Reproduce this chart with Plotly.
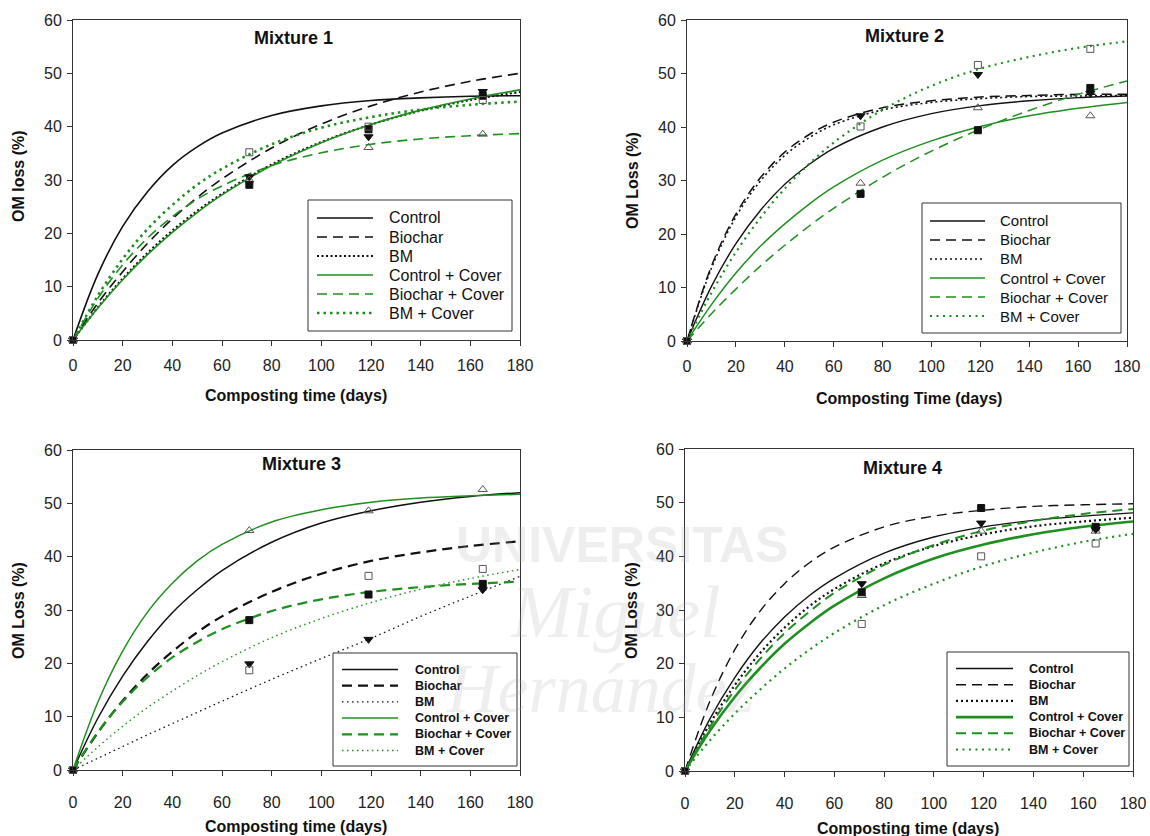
import plotly.graph_objects as go

W, H = 1150, 836

# ---------------------------------------------------------------- data
SERIES = ["Control", "Biochar", "BM", "Control + Cover", "Biochar + Cover", "BM + Cover"]
DAYS_FIT = [0, 10, 20, 30, 40, 50, 60, 80, 100, 120, 140, 160, 180]
DAYS_OBS = [0, 71, 119, 165]
X_TICKS = [0, 20, 40, 60, 80, 100, 120, 140, 160, 180]
Y_TICKS = [0, 10, 20, 30, 40, 50, 60]

# Mixture 1 - fitted OM loss curves (%)
m1_control = [0, 12.3, 21.3, 27.8, 32.7, 36.2, 38.8, 42.1, 43.9, 44.9, 45.4, 45.7, 45.8]
m1_biochar = [0, 6.9, 12.8, 18.1, 22.7, 26.7, 30.2, 36.0, 40.5, 43.9, 46.5, 48.5, 50.0]
m1_bm = [0, 6.1, 11.5, 16.3, 20.5, 24.2, 27.4, 32.9, 37.1, 40.4, 43.0, 45.0, 46.5]
m1_control_cover = [0, 6.0, 11.3, 16.0, 20.2, 23.9, 27.2, 32.7, 37.0, 40.4, 43.1, 45.2, 46.9]
m1_biochar_cover = [0, 7.8, 14.1, 19.1, 23.1, 26.4, 28.9, 32.7, 35.1, 36.7, 37.7, 38.3, 38.7]
m1_bm_cover = [0, 8.3, 15.2, 20.8, 25.3, 29.1, 32.1, 36.7, 39.8, 41.8, 43.2, 44.1, 44.7]
# Mixture 1 - measured points
m1_obs_tri_down = [0, 30.6, 38.1, 46.6]
m1_obs_tri_up = [0, 30.0, 36.1, 38.6]
m1_obs_sq_fill = [0, 29.1, 39.5, 45.8]
m1_obs_sq_open = [0, 35.2, 40.0, 45.0]

# Mixture 2 - fitted OM loss curves (%)
m2_control = [0, 10.2, 18.2, 24.4, 29.3, 33.0, 36.0, 40.0, 42.5, 44.0, 44.9, 45.5, 45.8]
m2_biochar = [0, 14.0, 23.7, 30.5, 35.3, 38.6, 40.9, 43.6, 44.9, 45.6, 45.9, 46.1, 46.1]
m2_bm = [0, 13.6, 23.2, 29.9, 34.7, 38.0, 40.4, 43.2, 44.6, 45.3, 45.7, 45.8, 45.9]
m2_control_cover = [0, 6.8, 12.7, 17.7, 21.9, 25.6, 28.8, 33.8, 37.4, 40.1, 42.1, 43.5, 44.6]
m2_biochar_cover = [0, 5.1, 9.7, 14.0, 17.9, 21.5, 24.8, 30.6, 35.5, 39.6, 43.1, 46.1, 48.6]
m2_bm_cover = [0, 9.0, 16.6, 23.0, 28.5, 33.1, 37.1, 43.2, 47.7, 50.9, 53.1, 54.8, 56.0]
# Mixture 2 - measured points
m2_obs_tri_down = [0, 42.1, 49.8, 46.3]
m2_obs_tri_up = [0, 29.5, 43.6, 42.1]
m2_obs_sq_fill = [0, 27.5, 39.4, 47.3]
m2_obs_sq_open = [0, 40.1, 51.6, 54.6]

# Mixture 3 - fitted OM loss curves (%)
m3_control = [0, 9.7, 17.6, 24.1, 29.5, 33.8, 37.4, 42.7, 46.3, 48.6, 50.2, 51.3, 52.0]
m3_biochar = [0, 7.0, 13.0, 18.0, 22.2, 25.8, 28.8, 33.4, 36.8, 39.2, 40.8, 42.0, 42.9]
m3_bm = [0, 2.2, 4.4, 6.6, 8.7, 10.8, 12.9, 17.0, 20.9, 24.7, 28.8, 32.6, 36.3]
m3_control_cover = [0, 12.7, 22.3, 29.6, 35.0, 39.2, 42.3, 46.5, 48.8, 50.2, 51.0, 51.4, 51.7]
m3_biochar_cover = [0, 7.1, 12.8, 17.4, 21.1, 24.0, 26.4, 29.8, 32.0, 33.4, 34.3, 34.9, 35.3]
m3_bm_cover = [0, 4.3, 8.2, 11.7, 14.8, 17.7, 20.3, 24.8, 28.4, 31.4, 33.9, 35.9, 37.6]
# Mixture 3 - measured points
m3_obs_tri_down = [0, 19.9, 24.5, 33.8]
m3_obs_tri_up = [0, 44.9, 48.6, 52.6]
m3_obs_sq_fill = [0, 28.1, 32.9, 34.9]
m3_obs_sq_open = [0, 18.7, 36.4, 37.7]

# Mixture 4 - fitted OM loss curves (%)
m4_control = [0, 9.7, 17.4, 23.7, 28.7, 32.7, 35.9, 40.6, 43.6, 45.5, 46.7, 47.5, 48.1]
m4_biochar = [0, 13.0, 22.6, 29.7, 34.9, 38.8, 41.7, 45.5, 47.5, 48.6, 49.3, 49.6, 49.8]
m4_bm = [0, 8.8, 16.0, 21.9, 26.7, 30.7, 33.9, 38.7, 41.9, 44.1, 45.6, 46.5, 47.2]
m4_control_cover = [0, 7.5, 13.8, 19.1, 23.7, 27.5, 30.8, 35.9, 39.6, 42.2, 44.1, 45.5, 46.5]
m4_biochar_cover = [0, 8.2, 15.1, 20.8, 25.7, 29.7, 33.2, 38.4, 42.1, 44.8, 46.6, 47.9, 48.8]
m4_bm_cover = [0, 5.7, 10.7, 15.1, 19.1, 22.6, 25.7, 30.9, 34.9, 38.2, 40.7, 42.7, 44.2]
# Mixture 4 - measured points
m4_obs_tri_down = [0, 34.9, 46.2, 45.0]
m4_obs_tri_up = [0, 32.7, 44.7, 44.7]
m4_obs_sq_fill = [0, 33.3, 49.0, 45.5]
m4_obs_sq_open = [0, 27.4, 40.0, 42.4]

# ---------------------------------------------------------------- styling
BLACK = "#111111"
GREEN = "#1f8f1f"
FONT = "Liberation Sans, Arial, sans-serif"

# line style per series: (colour, dash, width) for each mixture
STYLES = {
    1: [(BLACK, "solid", 1.6), (BLACK, "10px,6px", 1.6), (BLACK, "2px,2.5px", 2.2),
        (GREEN, "solid", 1.6), (GREEN, "10px,6px", 1.6), (GREEN, "2.5px,4px", 2.6)],
    2: [(BLACK, "solid", 1.4), (BLACK, "10px,6px", 1.5), (BLACK, "2px,3px", 1.6),
        (GREEN, "solid", 1.5), (GREEN, "10px,6px", 1.5), (GREEN, "2px,4.5px", 2.2)],
    3: [(BLACK, "solid", 1.5), (BLACK, "10px,6px", 2.2), (BLACK, "1.5px,3.5px", 1.3),
        (GREEN, "solid", 1.5), (GREEN, "10px,6px", 2.2), (GREEN, "1.5px,3.5px", 1.4)],
    4: [(BLACK, "solid", 1.4), (BLACK, "10px,6px", 1.4), (BLACK, "2px,3px", 2.2),
        (GREEN, "solid", 2.6), (GREEN, "10px,6px", 2.0), (GREEN, "2px,4.5px", 2.2)],
}

# panel geometry in pixels: plot-area rect, legend box, title/axis label anchors
PANELS = {
    1: dict(rect=(73, 20, 520, 340), legend=(308, 200, 512, 331), rows=(218, 19.0),
            line_x=(317, 373), text_x=387, leg_font=16, leg_bold=False,
            title="Mixture 1", title_xy=(293, 38), ytitle="OM loss (%)", ytitle_xy=(18, 176),
            xtitle="Composting time (days)", xtitle_xy=(296, 396), xtick_gap=6),
    2: dict(rect=(687, 20, 1127, 341), legend=(922, 203, 1121, 333), rows=(221, 19.0),
            line_x=(930, 985), text_x=998, leg_font=15, leg_bold=False,
            title="Mixture 2", title_xy=(904, 36), ytitle="OM Loss (%)", ytitle_xy=(633, 181),
            xtitle="Composting Time (days)", xtitle_xy=(909, 398), xtick_gap=6),
    3: dict(rect=(73, 450, 520, 770), legend=(333, 653, 517, 766), rows=(669.5, 16.2),
            line_x=(342, 398), text_x=413, leg_font=12.5, leg_bold=True,
            title="Mixture 3", title_xy=(301, 464), ytitle="OM Loss (%)", ytitle_xy=(18, 611),
            xtitle="Composting time (days)", xtitle_xy=(296, 826), xtick_gap=13),
    4: dict(rect=(685, 449, 1133, 771), legend=(947, 652, 1129, 766), rows=(668.5, 16.2),
            line_x=(956, 1013), text_x=1027, leg_font=12.5, leg_bold=True,
            title="Mixture 4", title_xy=(902, 468), ytitle="OM Loss (%)", ytitle_xy=(631, 611),
            xtitle="Composting time (days)", xtitle_xy=(908, 828), xtick_gap=13),
}

CURVES = {
    1: [m1_control, m1_biochar, m1_bm, m1_control_cover, m1_biochar_cover, m1_bm_cover],
    2: [m2_control, m2_biochar, m2_bm, m2_control_cover, m2_biochar_cover, m2_bm_cover],
    3: [m3_control, m3_biochar, m3_bm, m3_control_cover, m3_biochar_cover, m3_bm_cover],
    4: [m4_control, m4_biochar, m4_bm, m4_control_cover, m4_biochar_cover, m4_bm_cover],
}
POINTS = {
    1: [m1_obs_tri_down, m1_obs_tri_up, m1_obs_sq_fill, m1_obs_sq_open],
    2: [m2_obs_tri_down, m2_obs_tri_up, m2_obs_sq_fill, m2_obs_sq_open],
    3: [m3_obs_tri_down, m3_obs_tri_up, m3_obs_sq_fill, m3_obs_sq_open],
    4: [m4_obs_tri_down, m4_obs_tri_up, m4_obs_sq_fill, m4_obs_sq_open],
}
POINT_NAMES = ["BM", "Control + Cover", "Biochar + Cover", "BM + Cover"]
MARKERS = [
    dict(symbol="triangle-down", size=8, color=BLACK, line=dict(color=BLACK, width=1)),
    dict(symbol="triangle-up-open", size=8, color="#555555", line=dict(color="#555555", width=1)),
    dict(symbol="square", size=7, color=BLACK, line=dict(color=BLACK, width=1)),
    dict(symbol="square-open", size=7, color="#555555", line=dict(color="#555555", width=1)),
]


def px_x(x):
    return x / W


def px_y(y):
    return 1 - y / H


def text_at(text, x, y, size, **kw):
    return dict(text=text, x=px_x(x), y=px_y(y), xref="paper", yref="paper",
                showarrow=False, xanchor=kw.pop("xanchor", "center"), yanchor="middle",
                font=dict(family=FONT, size=size, color=kw.pop("color", "#111111")), **kw)


fig = go.Figure()
shapes, annotations = [], []

for i, p in PANELS.items():
    ax = "" if i == 1 else str(i)
    xa, ya = "x" + ax, "y" + ax
    x0, y0, x1, y1 = p["rect"]

    for name, vals, (col, dash, wid) in zip(SERIES, CURVES[i], STYLES[i]):
        fig.add_trace(go.Scatter(
            x=DAYS_FIT, y=vals, mode="lines", name=name, xaxis=xa, yaxis=ya,
            line=dict(color=col, dash=dash, width=wid, shape="spline", smoothing=1.0),
            showlegend=False, hoverinfo="skip"))

    for name, vals, mk in zip(POINT_NAMES, POINTS[i], MARKERS):
        fig.add_trace(go.Scatter(
            x=DAYS_OBS, y=vals, mode="markers", name=name, xaxis=xa, yaxis=ya,
            marker=mk, showlegend=False, cliponaxis=False))

    tick_font = dict(family=FONT, size=16, color="#222222")
    axis_common = dict(showgrid=False, zeroline=False, showline=True, linecolor="#333333",
                       linewidth=1, mirror=True, ticks="outside", ticklen=5,
                       tickcolor="#333333", tickwidth=1, automargin=False,
                       tickfont=tick_font)
    fig.layout["xaxis" + ax] = dict(
        domain=[px_x(x0), px_x(x1)], range=[0, 180], tickvals=X_TICKS,
        anchor=ya, ticklabelstandoff=p["xtick_gap"], **axis_common)
    fig.layout["yaxis" + ax] = dict(
        domain=[px_y(y1), px_y(y0)], range=[0, 60], tickvals=Y_TICKS,
        anchor=xa, ticklabelstandoff=2, **axis_common)

    # panel title and axis titles
    annotations.append(text_at("<b>%s</b>" % p["title"], *p["title_xy"], 18))
    annotations.append(text_at("<b>%s</b>" % p["ytitle"], *p["ytitle_xy"], 16, textangle=-90))
    annotations.append(text_at("<b>%s</b>" % p["xtitle"], *p["xtitle_xy"], 16))

    # legend box with line samples
    lx0, ly0, lx1, ly1 = p["legend"]
    shapes.append(dict(type="rect", xref="paper", yref="paper",
                       x0=px_x(lx0), x1=px_x(lx1), y0=px_y(ly1), y1=px_y(ly0),
                       line=dict(color="#333333", width=1), fillcolor="white", layer="above"))
    r0, dr = p["rows"]
    sx0, sx1 = p["line_x"]
    for k, (name, (col, dash, wid)) in enumerate(zip(SERIES, STYLES[i])):
        ry = r0 + k * dr
        shapes.append(dict(type="line", xref="paper", yref="paper",
                           x0=px_x(sx0), x1=px_x(sx1), y0=px_y(ry), y1=px_y(ry),
                           line=dict(color=col, dash=dash, width=wid), layer="above"))
        label = "<b>%s</b>" % name if p["leg_bold"] else name
        annotations.append(text_at(label, p["text_x"], ry, p["leg_font"], xanchor="left"))

# faint institutional watermark across the lower panels
WM = "rgba(170,170,170,0.20)"
annotations += [
    text_at("<b>UNIVERSITAS</b>", 622, 545, 50, color=WM),
    dict(text="<i>Miguel</i>", x=px_x(615), y=px_y(612), xref="paper", yref="paper",
         showarrow=False, xanchor="center", yanchor="middle",
         font=dict(family="Liberation Serif, serif", size=74, color=WM)),
    dict(text="<i>Hernández</i>", x=px_x(600), y=px_y(688), xref="paper", yref="paper",
         showarrow=False, xanchor="center", yanchor="middle",
         font=dict(family="Liberation Serif, serif", size=70, color=WM)),
]

fig.update_layout(
    width=W, height=H, margin=dict(l=0, r=0, t=0, b=0, autoexpand=False),
    paper_bgcolor="white", plot_bgcolor="white",
    showlegend=False, shapes=shapes, annotations=annotations,
    font=dict(family=FONT, color="#111111"),
)

fig.write_html("out.html")
